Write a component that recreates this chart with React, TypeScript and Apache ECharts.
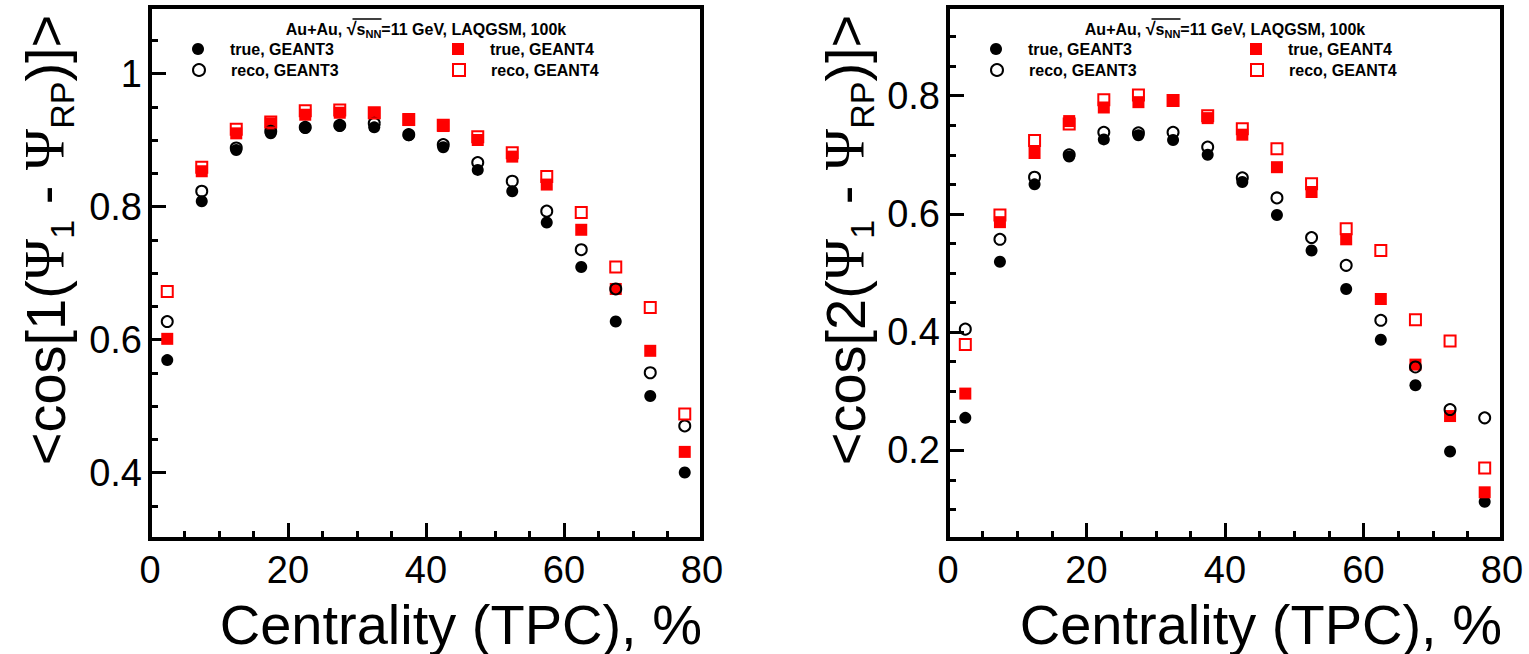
import React, { useEffect, useRef } from 'react';
import * as echarts from 'echarts';

// Centrality bin centres (%)
const centrality = [2.5, 7.5, 12.5, 17.5, 22.5, 27.5, 32.5, 37.5, 42.5, 47.5, 52.5, 57.5, 62.5, 67.5, 72.5, 77.5];

// <cos[1(Psi1 - PsiRP)]>
const v1TrueG3 = [0.569, 0.808, 0.885, 0.910, 0.918, 0.921, 0.919, 0.907, 0.889, 0.855, 0.823, 0.776, 0.709, 0.627, 0.515, 0.400];
const v1RecoG3 = [0.627, 0.823, 0.888, 0.913, 0.919, 0.922, 0.925, 0.908, 0.893, 0.866, 0.838, 0.793, 0.735, 0.676, 0.550, 0.470];
const v1TrueG4 = [0.601, 0.853, 0.910, 0.925, 0.938, 0.941, 0.940, 0.930, 0.921, 0.900, 0.875, 0.833, 0.765, 0.676, 0.583, 0.431];
const v1RecoG4 = [0.672, 0.859, 0.916, 0.927, 0.944, 0.945, 0.941, 0.931, 0.922, 0.905, 0.881, 0.845, 0.791, 0.709, 0.648, 0.488];

// <cos[2(Psi1 - PsiRP)]>
const v2TrueG3 = [0.255, 0.519, 0.650, 0.697, 0.726, 0.733, 0.725, 0.700, 0.654, 0.598, 0.538, 0.473, 0.387, 0.310, 0.198, 0.113];
const v2RecoG3 = [0.405, 0.557, 0.662, 0.700, 0.738, 0.737, 0.738, 0.713, 0.661, 0.627, 0.560, 0.513, 0.420, 0.341, 0.269, 0.255];
const v2TrueG4 = [0.296, 0.586, 0.703, 0.757, 0.780, 0.789, 0.792, 0.762, 0.734, 0.679, 0.637, 0.557, 0.456, 0.345, 0.258, 0.129];
const v2RecoG4 = [0.379, 0.598, 0.724, 0.752, 0.793, 0.801, 0.792, 0.766, 0.744, 0.710, 0.651, 0.575, 0.538, 0.421, 0.385, 0.170];

// Tick labels
const xMajorTicks = [0, 20, 40, 60, 80];
const y1MajorTicks = [0.4, 0.6, 0.8, 1.0];
const y2MajorTicks = [0.2, 0.4, 0.6, 0.8];

const seriesNames = ['true, GEANT3', 'true, GEANT4', 'reco, GEANT3', 'reco, GEANT4'];

const FONT = "'Liberation Sans', Arial, Helvetica, sans-serif";
const SERIF = "'Liberation Serif', 'DejaVu Serif', serif";
const RED = '#ff0000';
const BLACK = '#000000';

const markerStyles = [
  { symbol: 'circle', symbolSize: 12, itemStyle: { color: BLACK, borderWidth: 0, opacity: 1 } },
  { symbol: 'rect', symbolSize: 12, itemStyle: { color: RED, borderWidth: 0, opacity: 1 } },
  { symbol: 'circle', symbolSize: 11, itemStyle: { color: 'rgba(0,0,0,0)', borderColor: BLACK, borderWidth: 2, opacity: 1 } },
  { symbol: 'rect', symbolSize: 11, itemStyle: { color: 'rgba(0,0,0,0)', borderColor: RED, borderWidth: 2, opacity: 1 } },
];

function buildOption() {
  const TOP = 7;
  const BOTTOM = 539;
  const panels = [
    { L: 150, R: 702, min: 0.3, max: 1.1, majors: y1MajorTicks, n: '1', data: [v1TrueG3, v1TrueG4, v1RecoG3, v1RecoG4], titleX: 45 },
    { L: 948, R: 1502, min: 0.05, max: 0.95, majors: y2MajorTicks, n: '2', data: [v2TrueG3, v2TrueG4, v2RecoG3, v2RecoG4], titleX: 845 },
  ];

  const grid: any[] = [];
  const xAxis: any[] = [];
  const yAxis: any[] = [];
  const series: any[] = [];
  const legend: any[] = [];
  const graphic: any[] = [];

  panels.forEach((p, i) => {
    grid.push({
      left: p.L, top: TOP, width: p.R - p.L, height: BOTTOM - TOP,
      show: true, borderColor: BLACK, borderWidth: 4, backgroundColor: 'transparent',
    });
    xAxis.push({
      gridIndex: i, type: 'value', min: 0, max: 80, interval: 20,
      axisLine: { show: false },
      axisTick: { show: true, inside: true, length: 16, lineStyle: { color: BLACK, width: 3 } },
      minorTick: { show: true, splitNumber: 4, length: 8, lineStyle: { color: BLACK, width: 3 } },
      splitLine: { show: false }, minorSplitLine: { show: false },
      axisLabel: {
        customValues: xMajorTicks,
        color: BLACK, fontSize: 38, fontFamily: FONT, margin: 12, showMinLabel: true, showMaxLabel: true,
      },
    });
    // minor ticks axis
    yAxis.push({
      gridIndex: i, type: 'value', min: p.min, max: p.max, interval: 0.05, position: 'left',
      axisLine: { show: false },
      axisTick: { show: true, inside: true, length: 8, lineStyle: { color: BLACK, width: 3 } },
      axisLabel: { show: false }, splitLine: { show: false },
    });
    // major ticks + labels axis
    yAxis.push({
      gridIndex: i, type: 'value', min: p.min, max: p.max, position: 'left',
      axisLine: { show: false },
      axisTick: { show: true, inside: true, length: 16, customValues: p.majors, lineStyle: { color: BLACK, width: 3 } },
      axisLabel: {
        customValues: p.majors, color: BLACK, fontSize: 38, fontFamily: FONT, margin: 8,
        formatter: (v: number) => String(Math.round(v * 10) / 10),
      },
      splitLine: { show: false },
    });

    p.data.forEach((vals, s) => {
      series.push({
        type: 'scatter', name: seriesNames[s], xAxisIndex: i, yAxisIndex: 2 * i,
        data: centrality.map((c, k) => [c, vals[k]]),
        symbol: markerStyles[s].symbol, symbolSize: markerStyles[s].symbolSize,
        itemStyle: markerStyles[s].itemStyle,
        emphasis: { disabled: true }, silent: true,
      });
    });

    // legend entries (two columns, two rows)
    const entries = [
      { s: 0, col: 0, row: 0 },
      { s: 2, col: 0, row: 1 },
      { s: 1, col: 1, row: 0 },
      { s: 3, col: 1, row: 1 },
    ];
    entries.forEach((e) => {
      const ms = markerStyles[e.s];
      legend.push({
        left: p.L + (e.col === 0 ? 42 : 302),
        top: e.row === 0 ? 41 : 62,
        padding: 0, itemWidth: 12, itemHeight: 12, selectedMode: false,
        data: [{ name: seriesNames[e.s], icon: ms.symbol, itemStyle: ms.itemStyle }],
        textStyle: { color: BLACK, fontSize: 16, fontWeight: 'bold', fontFamily: FONT, padding: [0, 0, 0, 21] },
      });
    });

    // header
    const cx = (p.L + p.R) / 2;
    const hw = 281;
    const hs = cx - hw / 2;
    graphic.push({
      type: 'text', x: cx, y: 29, silent: true,
      style: {
        text: '{b|Au+Au, }{r|√}{b|s}{n|NN}{b|=11 GeV, LAQGSM, 100k}',
        align: 'center', verticalAlign: 'middle', fill: BLACK,
        rich: {
          b: { fontSize: 16, fontWeight: 'bold', fontFamily: FONT, fill: BLACK, lineHeight: 20, verticalAlign: 'middle' },
          r: { fontSize: 18, fontWeight: 'bold', fontFamily: FONT, fill: BLACK, lineHeight: 20, verticalAlign: 'middle' },
          n: { fontSize: 11, fontWeight: 'bold', fontFamily: FONT, fill: BLACK, lineHeight: 12, verticalAlign: 'bottom' },
        },
      },
    });
    graphic.push({
      type: 'line', silent: true,
      shape: { x1: hs + 67, y1: 19, x2: hs + 96, y2: 19 },
      style: { stroke: BLACK, lineWidth: 1.5 },
    });

    // y title
    graphic.push({
      type: 'text', x: p.titleX, y: 240, rotation: Math.PI / 2, silent: true,
      style: {
        text: `{a|<cos[${p.n}(}{p|Ψ}{s|1}{a| - }{p|Ψ}{s|RP}{a|)]>}`,
        align: 'center', verticalAlign: 'middle', fill: BLACK,
        rich: {
          a: { fontSize: 56, fontFamily: FONT, fill: BLACK, lineHeight: 68, verticalAlign: 'middle' },
          p: { fontSize: 56, fontFamily: SERIF, fill: BLACK, lineHeight: 68, verticalAlign: 'middle' },
          s: { fontSize: 34, fontFamily: FONT, fill: BLACK, lineHeight: 32, verticalAlign: 'bottom' },
        },
      },
    });

    // x title
    graphic.push({
      type: 'text', x: p.R, y: 624, silent: true,
      style: {
        text: 'Centrality (TPC), %', align: 'right', verticalAlign: 'middle',
        fontSize: 56, fontFamily: FONT, fill: BLACK,
      },
    });
  });

  return {
    animation: false,
    backgroundColor: '#ffffff',
    grid, xAxis, yAxis, series, legend, graphic,
  };
}

export default function App() {
  const ref = useRef<HTMLDivElement>(null);
  useEffect(() => {
    if (!ref.current) return;
    const chart = echarts.init(ref.current, undefined, { renderer: 'svg' });
    chart.setOption(buildOption() as any);
    return () => chart.dispose();
  }, []);
  return (
    <div
      ref={ref}
      style={{ position: 'fixed', left: 0, top: 0, width: 1529, height: 654, background: '#fff' }}
    />
  );
}
